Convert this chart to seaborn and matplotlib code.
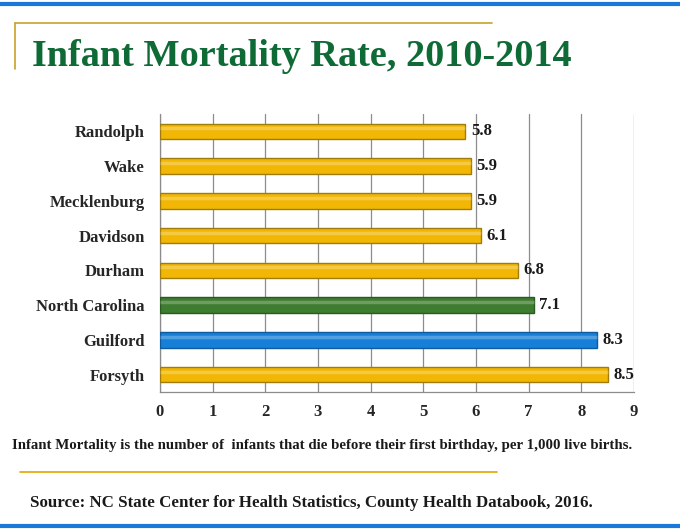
import matplotlib
matplotlib.use("Agg")
import matplotlib.pyplot as plt
from matplotlib.lines import Line2D
import seaborn as sns
import pandas as pd
import numpy as np

# data
counties = ['Randolph', 'Wake', 'Mecklenburg', 'Davidson', 'Durham',
            'North Carolina', 'Guilford', 'Forsyth']
rates = [5.8, 5.9, 5.9, 6.1, 6.8, 7.1, 8.3, 8.5]
bar_colors = ['#F2B705', '#F2B705', '#F2B705', '#F2B705', '#F2B705',
              '#3E7C30', '#1680D8', '#F2B705']
edge_colors = ['#A07C0C', '#A07C0C', '#A07C0C', '#A07C0C', '#A07C0C',
               '#2B5A20', '#0F5A9C', '#A07C0C']
xticks = [0, 1, 2, 3, 4, 5, 6, 7, 8, 9]

title = 'Infant Mortality Rate, 2010-2014'
note = 'Infant Mortality is the number of  infants that die before their first birthday, per 1,000 live births.'
source = 'Source: NC State Center for Health Statistics, County Health Databook, 2016.'

df = pd.DataFrame({'county': counties, 'rate': rates})

sns.set_style('white')
plt.rcParams['font.family'] = ['Liberation Serif', 'DejaVu Serif']

fig = plt.figure(figsize=(6.8, 5.29), dpi=100)
W, H = 680, 529
ax = fig.add_axes([160 / W, 1 - 392 / H, (634 - 160) / W, (392 - 114) / H])

sns.barplot(data=df, y='county', x='rate', hue='county', palette=bar_colors,
            saturation=1, legend=False, orient='h', width=0.44, ax=ax, zorder=3)

for patch, ec in zip(ax.patches, edge_colors):
    patch.set_edgecolor(ec)
    patch.set_linewidth(1.0)
    # soft highlight near the top of each bar, like the 3D shading
    x0, y0 = patch.get_x(), patch.get_y()
    w, h = patch.get_width(), patch.get_height()
    ax.plot([x0, x0 + w], [y0 + h * 0.3, y0 + h * 0.3], color='white',
            alpha=0.25, lw=2.5, zorder=4, solid_capstyle='butt')

for i, v in enumerate(rates):
    ax.annotate(f'{v}', xy=(v, i), xytext=(4, 0), textcoords='offset points',
                ha='left', va='center', fontsize=12, fontweight='bold',
                color='#1a1a1a')

ax.set_xlim(0, 9)
ax.set_ylim(7.5, -0.5)
ax.set_xticks(xticks)
ax.set_xticklabels([str(t) for t in xticks], fontsize=12, fontweight='bold')
ax.set_yticks(range(len(counties)))
ax.set_yticklabels(counties, fontsize=12, fontweight='bold')
ax.set_xlabel('')
ax.set_ylabel('')

ax.xaxis.grid(True, color='#8c8c8c', lw=0.9, zorder=0)
ax.yaxis.grid(False)
for side in ['top', 'right']:
    ax.spines[side].set_visible(False)
for side in ['left', 'bottom']:
    ax.spines[side].set_color('#8c8c8c')
    ax.spines[side].set_linewidth(0.9)

# tick marks: between categories on the y axis, at integers on the x axis
ax.set_yticks(np.arange(-0.5, len(counties), 1), minor=True)
ax.tick_params(axis='y', which='major', length=0, pad=11)
ax.tick_params(axis='y', which='minor', length=4, color='#8c8c8c', direction='out')
ax.tick_params(axis='x', which='major', length=4, color='#8c8c8c', direction='out', pad=5)

# slide decoration
fig.add_artist(Line2D([0, 1], [1 - 4 / H, 1 - 4 / H], color='#1A78D8', lw=3))
fig.add_artist(Line2D([0, 1], [1 - 526 / H, 1 - 526 / H], color='#1A78D8', lw=3))
fig.add_artist(Line2D([15 / W, 492 / W], [1 - 23 / H, 1 - 23 / H], color='#C9A227', lw=1.2))
fig.add_artist(Line2D([15 / W, 15 / W], [1 - 23 / H, 1 - 69 / H], color='#C9A227', lw=1.2))
fig.add_artist(Line2D([20 / W, 497 / W], [1 - 472 / H, 1 - 472 / H], color='#E0A800', lw=1.2))

fig.text(32 / W, 1 - 56 / H, title, fontsize=27.5, fontweight='bold',
         color='#0E6B35', ha='left', va='center')
fig.text(12 / W, 1 - 446 / H, note, fontsize=10.7, fontweight='bold',
         color='#1a1a1a', ha='left', va='center')
fig.text(30 / W, 1 - 503 / H, source, fontsize=12.2, fontweight='bold',
         color='#1a1a1a', ha='left', va='center')

fig.savefig('out.png', dpi=100)
